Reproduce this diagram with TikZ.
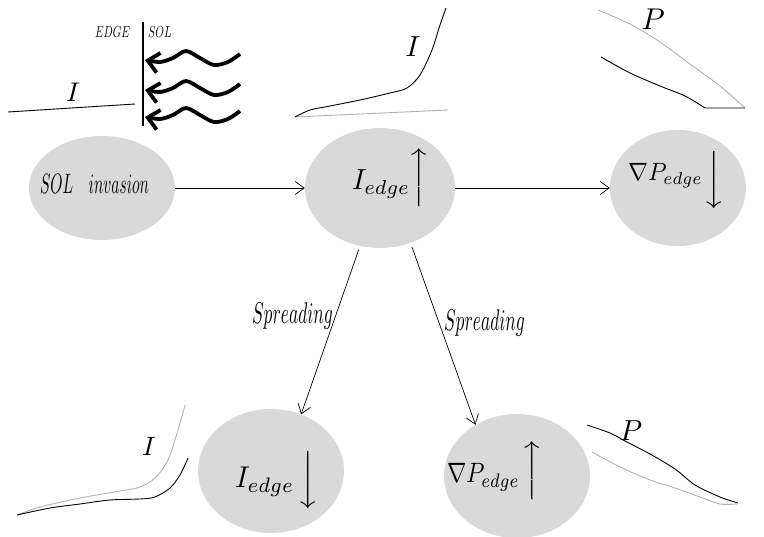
\documentclass[tikz,border=0pt]{standalone}
\usepackage{graphicx}
\usetikzlibrary{arrows.meta,shapes.geometric}
\definecolor{ellgray}{RGB}{217,217,217}
\definecolor{lgray}{RGB}{178,178,178}
% tall extensible arrow: scale, arrow, height (before scaling)
\newcommand{\bigarr}[3]{\scalebox{#1}{$\delimiterfactor=1000\delimitershortfall=0pt\nulldelimiterspace=0pt\left#2\vcenter{\hbox{\rule{0pt}{#3}}}\right.$}}
\begin{document}
\begin{tikzpicture}[x=1pt,y=-1pt,
  blob/.style={ellipse, fill=ellgray, inner sep=0pt},
  lbl/.style={inner sep=0pt, outer sep=0pt, anchor=base west},
  ilbl/.style={inner sep=0pt, outer sep=0pt},
  conn/.style={-{Straight Barb[length=9pt,width=13pt]}, line width=0.7pt},
  blk/.style={line width=0.9pt, black},
  gry/.style={line width=0.9pt, lgray},
  wave/.style={line width=3.8pt, -{Straight Barb[length=11pt,width=20pt]}}
]
\useasboundingbox (0,0) rectangle (764,537);

% ellipses
\node[blob, minimum width=146pt, minimum height=104pt] (sol) at (102,188) {};
\node[blob, minimum width=150pt, minimum height=120pt] (mid) at (380,188) {};
\node[blob, minimum width=136pt, minimum height=116pt] (rgt) at (678,188) {};
\node[blob, minimum width=146pt, minimum height=124pt] (bl) at (271,471) {};
\node[blob, minimum width=146pt, minimum height=124pt] (br) at (517,476) {};

% texts in ellipses
\node[lbl] (solt) at (40,194) {\scalebox{1.55}[2.8]{$SOL$\hspace{10pt}$invasion$}};
\node[lbl] (midt) at (352,190) {\scalebox{2.8}[2.9]{$I_{edge}$}};
\node[ilbl] (midar) at (419,177.5) {\bigarr{3.2}{\uparrow}{15.3pt}};
\node[lbl] (rgtt) at (628,181) {\scalebox{2.4}[2.5]{$\nabla P_{edge}$}};
\node[ilbl] (rgtar) at (714,180) {\bigarr{3.2}{\downarrow}{14.4pt}};
\node[lbl] (blt) at (235,488) {\scalebox{2.85}[3.0]{$I_{edge}$}};
\node[ilbl] (blar) at (308,480) {\bigarr{3.2}{\downarrow}{14.4pt}};
\node[lbl] (brt) at (447,483) {\scalebox{2.33}[2.8]{$\nabla P_{edge}$}};
\node[ilbl] (brar) at (532,470.5) {\bigarr{3.2}{\uparrow}{14pt}};

% connectors
\draw[conn] (sol.east) -- (mid.west);
\draw[conn] (mid.east) -- (rgt.west);
\draw[conn, shorten <=4pt] (mid.-109) -- (bl.62);
\draw[conn, shorten <=4pt] (mid.-61) -- (br.129);
\node[lbl] (sp1) at (252,324) {\scalebox{1.75}[3.0]{$Spreading$}};
\node[lbl] (sp2) at (444,331) {\scalebox{1.75}[3.0]{$Spreading$}};

% top-left inset
\draw[blk] (8,112) -- (135,104);
\node[ilbl] (tlI) at (73,92) {\scalebox{2.7}{$I$}};
\draw[line width=1.2pt] (143,22) -- (143,126);
\node[lbl] (edg) at (95,38) {\scalebox{1.08}[1.6]{$EDGE$}};
\node[lbl] (sl) at (148,38) {\scalebox{1.1}[1.6]{$SOL$}};
\foreach \yy in {58,88,115}{
  \begin{scope}[shift={(0,\yy)}]
  \draw[wave] plot[smooth] coordinates {(240,-4) (228,4) (214,7) (200,0) (186,-7) (173,0) (160,4) (145,2)};
  \end{scope}
}

% top-middle inset
\draw[gry] (295,117) -- (448,110);
\draw[blk] plot[smooth] coordinates {(295,117) (310,110) (330,106) (360,100) (390,93) (407,88) (420,75) (432,50) (440,25) (446,8)};
\node[ilbl] (tmI) at (413,47) {\scalebox{2.9}{$I$}};

% top-right inset
\draw[gry] plot[smooth] coordinates {(598,10) (630,24) (660,42) (690,64) (720,86) (745,108)};
\draw[blk] plot[smooth] coordinates {(601,57) (630,73) (660,86) (685,96) (705,108)} -- (745,108);
\node[ilbl] (trP) at (653,19) {\scalebox{3.0}{$P$}};

% bottom-left inset
\draw[gry] plot[smooth] coordinates {(17,515) (40,507) (80,498) (120,491) (140,487) (155,478) (168,460) (178,430) (185,405)};
\draw[blk] plot[smooth] coordinates {(17,515) (50,508) (80,504) (110,500) (140,499) (155,497) (170,488) (180,475) (188,458)};
\node[ilbl] (blI) at (149,446) {\scalebox{2.65}{$I$}};

% bottom-right inset
\draw[blk] plot[smooth] coordinates {(587,425) (610,433) (625,441) (650,454) (675,469) (695,485) (720,497) (738,503)};
\draw[gry] plot[smooth] coordinates {(592,452) (620,467) (650,480) (675,488) (700,497) (720,504) (737,504)};
\node[ilbl] (brP) at (631,431) {\scalebox{2.9}{$P$}};
\end{tikzpicture}
\end{document}
